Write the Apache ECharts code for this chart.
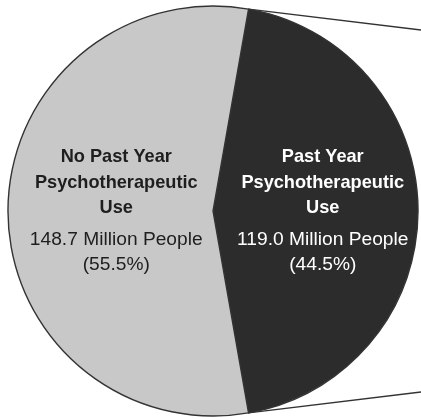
<!DOCTYPE html>
<html>
<head>
<meta charset="utf-8">
<style>
  html, body { margin: 0; padding: 0; background: #ffffff; }
  #chart { width: 421px; height: 420px; }
</style>
<script src="https://cdn.jsdelivr.net/npm/echarts@6/dist/echarts.min.js"></script>
</head>
<body>
<div id="chart"></div>
<script>
// Past-year psychotherapeutic use, people aged 12 or older (millions)
const groupTitles = [
  ['Past Year', 'Psychotherapeutic', 'Use'],
  ['No Past Year', 'Psychotherapeutic', 'Use']
];
const peopleMillions = [119.0, 148.7];
const sharePercent = [44.5, 55.5];
const sliceColors = ['#2c2c2c', '#c8c8c8'];
const textColors = ['#ffffff', '#1e1e1e'];
const labelPadLeft = [8.5, 17.5];

const pieCenter = [213, 211];
const pieRadius = 205;
const connectorSlope = 0.121;
const fontFamily = '"Liberation Sans", Arial, sans-serif';

const total = peopleMillions.reduce((a, b) => a + b, 0);
// The highlighted (past year) slice is centred on the right-hand side
const darkSpan = 360 * peopleMillions[0] / total;
const startAngle = darkSpan / 2;

const chart = echarts.init(document.getElementById('chart'), null, { renderer: 'canvas' });

const data = peopleMillions.map((v, i) => ({
  name: groupTitles[i].join(' '),
  value: v,
  itemStyle: { color: sliceColors[i] },
  label: {
    color: textColors[i],
    padding: [0, 0, 0, labelPadLeft[i]],
    formatter: () =>
      groupTitles[i].map(t => '{b|' + t + '}').join('\n') +
      '\n{s| }\n{v|' + v.toFixed(1) + ' Million People}\n{v|(' + sharePercent[i].toFixed(1) + '%)}',
    rich: {
      b: { fontFamily, fontWeight: 'bold', fontSize: 18.2, lineHeight: 25.5, color: textColors[i] },
      s: { fontSize: 6, lineHeight: 6.5, color: textColors[i] },
      v: { fontFamily, fontWeight: 'normal', fontSize: 19.2, lineHeight: 25, color: textColors[i] }
    }
  }
}));

// Leader lines from the edges of the highlighted slice towards the breakdown on the right
const rad = Math.PI / 180;
const edgeAngles = [startAngle, -startAngle];
const connectors = edgeAngles.map((a, k) => {
  const x0 = pieCenter[0] + pieRadius * Math.cos(a * rad);
  const y0 = pieCenter[1] - pieRadius * Math.sin(a * rad);
  const x1 = 421;
  const y1 = y0 + (k === 0 ? 1 : -1) * connectorSlope * (x1 - x0);
  return {
    type: 'line',
    shape: { x1: x0, y1: y0, x2: x1, y2: y1 },
    style: { stroke: '#333333', lineWidth: 1.4 },
    z: 10
  };
});

chart.setOption({
  animation: false,
  backgroundColor: '#ffffff',
  graphic: connectors,
  series: [{
    type: 'pie',
    center: pieCenter,
    radius: pieRadius,
    startAngle: startAngle,
    clockwise: true,
    silent: true,
    itemStyle: { borderColor: '#333333', borderWidth: 1.4 },
    label: { show: true, position: 'inside', align: 'center' },
    labelLine: { show: false },
    data: data
  }]
});
</script>
</body>
</html>
